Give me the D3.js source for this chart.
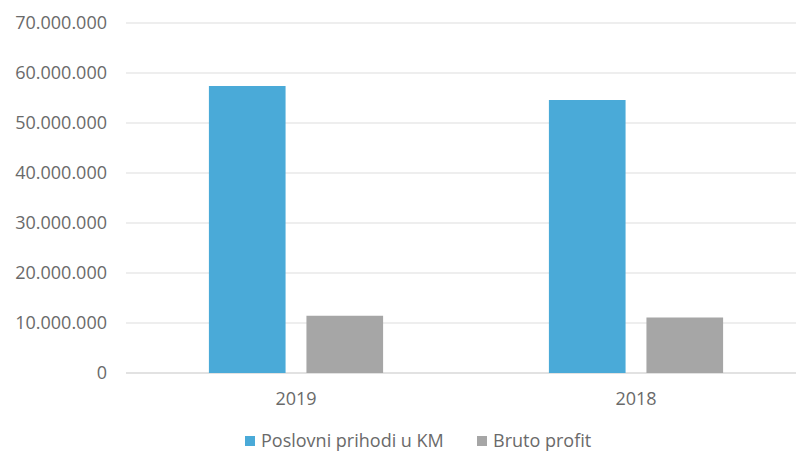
<!DOCTYPE html>
<html>
<head>
<meta charset="utf-8">
<script src="https://cdn.jsdelivr.net/npm/d3@7"></script>
<style>
  body { margin: 0; background: #fff; }
  text { font-family: "Open Sans", sans-serif; fill: #6a6a6a; }
</style>
</head>
<body>
<div id="chart"></div>
<script>
const years = ["2019", "2018"];
const seriesNames = ["Poslovni prihodi u KM", "Bruto profit"];
const prihodi = [57400000, 54600000];
const profit = [11450000, 11100000];
const yTicks = [0, 10000000, 20000000, 30000000, 40000000, 50000000, 60000000, 70000000];
const colors = ["#4aaad8", "#a6a6a6"];

const width = 796, height = 454;
const margin = { top: 23, right: -10, bottom: 81, left: 126 };

const svg = d3.select("#chart")
  .append("svg")
  .attr("width", width)
  .attr("height", height);

const locale = d3.formatLocale({ decimal: ",", thousands: ".", grouping: [3], currency: ["", ""] });
const fmt = locale.format(",d");

const x0 = d3.scaleBand()
  .domain(years)
  .range([margin.left, width - margin.right])
  .padding(0);

const x1 = d3.scaleBand()
  .domain(seriesNames)
  .range([0, x0.bandwidth()])
  .paddingInner(0.214)
  .paddingOuter(0.85);

const y = d3.scaleLinear()
  .domain([0, 70000000])
  .range([height - margin.bottom, margin.top]);

// gridlines
svg.append("g")
  .selectAll("line")
  .data(yTicks)
  .enter()
  .append("line")
  .attr("x1", margin.left)
  .attr("x2", width - margin.right)
  .attr("y1", d => y(d))
  .attr("y2", d => y(d))
  .attr("stroke", d => d === 0 ? "#d9d9d9" : "#e8e8e8")
  .attr("stroke-width", 1.5);

// y labels
svg.append("g")
  .selectAll("text")
  .data(yTicks)
  .enter()
  .append("text")
  .attr("x", 107)
  .attr("y", d => y(d))
  .attr("dy", "0.35em")
  .attr("text-anchor", "end")
  .style("font-size", "18px")
  .text(d => fmt(d));

// bars
const rows = years.map((yr, i) => ({ year: yr, values: [prihodi[i], profit[i]] }));

const groups = svg.selectAll(".grp")
  .data(rows)
  .enter()
  .append("g")
  .attr("transform", d => `translate(${x0(d.year)},0)`);

groups.selectAll("rect")
  .data(d => d.values.map((v, j) => ({ name: seriesNames[j], value: v, j: j })))
  .enter()
  .append("rect")
  .attr("x", d => x1(d.name))
  .attr("y", d => y(d.value))
  .attr("width", x1.bandwidth())
  .attr("height", d => y(0) - y(d.value))
  .attr("fill", d => colors[d.j]);

// x labels
svg.append("g")
  .selectAll("text")
  .data(years)
  .enter()
  .append("text")
  .attr("x", d => x0(d) + x0.bandwidth() / 2)
  .attr("y", 405)
  .attr("text-anchor", "middle")
  .style("font-size", "18px")
  .text(d => d);

// legend
const legendX = [245, 477];
const legend = svg.append("g")
  .selectAll("g")
  .data(seriesNames)
  .enter()
  .append("g")
  .attr("transform", (d, i) => `translate(${legendX[i]},441)`);

legend.append("rect")
  .attr("x", 0)
  .attr("y", -5)
  .attr("width", 10)
  .attr("height", 10)
  .attr("fill", (d, i) => colors[i]);

legend.append("text")
  .attr("x", 16)
  .attr("y", 0)
  .attr("dy", "0.35em")
  .style("font-size", "18px")
  .text(d => d);
</script>
</body>
</html>
